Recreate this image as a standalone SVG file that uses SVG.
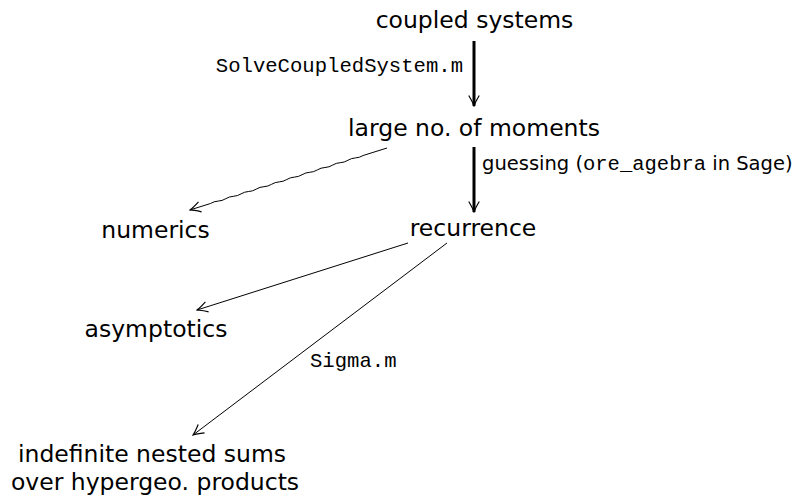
<svg xmlns="http://www.w3.org/2000/svg" width="803" height="500" viewBox="0 0 803 500">
<style>
.node{font-family:"DejaVu Sans","Liberation Sans",sans-serif;font-size:23.5px;fill:#000;text-anchor:middle}
.lbl{font-family:"DejaVu Sans","Liberation Sans",sans-serif;font-size:19.5px;fill:#000}
.tt{font-family:"Liberation Mono","DejaVu Sans Mono",monospace;font-size:20.6px;fill:#000}
.tts{font-family:"Liberation Mono","DejaVu Sans Mono",monospace;font-size:20.5px}
.thin{stroke:#000;stroke-width:1;fill:none;marker-end:url(#tip)}
.thick{stroke:#000;stroke-width:3;fill:none;marker-end:url(#tip)}
</style>
<defs>
<marker id="tip" markerUnits="userSpaceOnUse" markerWidth="14" markerHeight="14" viewBox="-11 -6 12 12" refX="0" refY="0" orient="auto">
<path d="M-9,-4.5 Q-3,-1 0,0 Q-3,1 -9,4.5" fill="none" stroke="#000" stroke-width="1"/>
</marker>
</defs>
<g id="n-coupled"><text class="node" x="474.5" y="28">coupled systems</text></g>
<g id="n-moments"><text class="node" x="474" y="136">large no. of moments</text></g>
<g id="n-recurrence"><text class="node" x="473" y="236">recurrence</text></g>
<g id="n-numerics"><text class="node" x="155.5" y="238">numerics</text></g>
<g id="n-asymptotics"><text class="node" x="156" y="337">asymptotics</text></g>
<g id="n-sums"><text class="node" x="152" y="462">indefinite nested sums</text><text class="node" x="155" y="490">over hypergeo. products</text></g>
<g id="connectors">
<line class="thick" x1="474" y1="41" x2="474" y2="106"/>
<text class="tt" x="463" y="72" text-anchor="end">SolveCoupledSystem.m</text>
<line class="thick" x1="474" y1="147" x2="474" y2="212"/>
<text class="lbl" x="482" y="170">guessing (<tspan class="tts">ore_agebra</tspan> in Sage)</text>
<path class="thin" d="M387,148 L363.15,155.5 Q359.6,157.7 355.52,157.9 T347.89,160.3 T340.25,162.7 T332.62,165.1 T324.99,167.5 T317.36,169.9 T309.73,172.3 T302.09,174.7 T294.46,177.1 T286.83,179.5 T279.2,181.9 T271.57,184.3 T263.93,186.7 T256.3,189.1 T248.67,191.5 T241.04,193.9 T233.41,196.3 T225.77,198.7 T218.14,201.1 T210.51,203.5 L190,209.95"/>
<line class="thin" x1="408" y1="243" x2="197" y2="310"/>
<line class="thin" x1="447" y1="243" x2="193" y2="435"/>
<text class="tt" x="310" y="367">Sigma.m</text>
</g>
</svg>
